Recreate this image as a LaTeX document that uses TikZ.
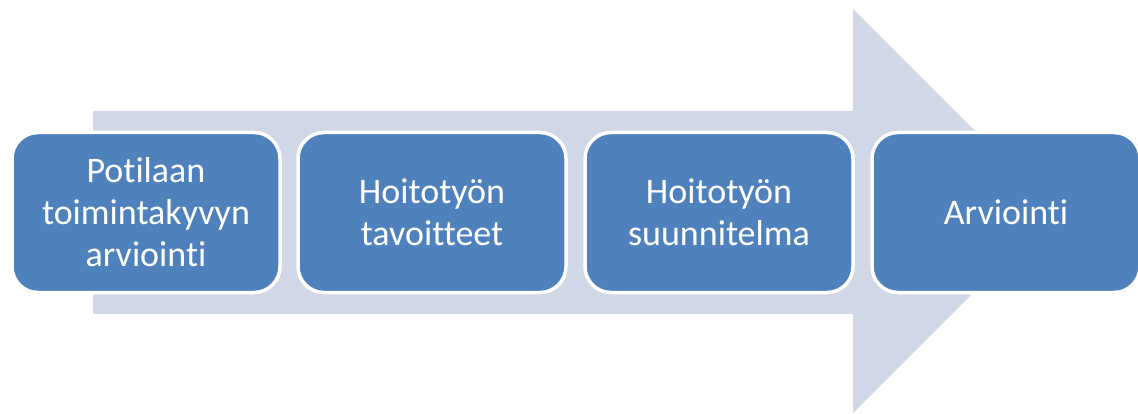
\documentclass[tikz,border=0pt]{standalone}
\usepackage{fontspec}
\setmainfont{Carlito}[Ligatures={NoCommon,NoContextual}]
\definecolor{arrowfill}{HTML}{D0D8E8}
\definecolor{boxfill}{HTML}{4F81BD}
\begin{document}
\begin{tikzpicture}[x=1pt,y=-1pt,
  stepbox/.style={draw=white, line width=3.5pt, fill=boxfill, rounded corners=26pt,
    minimum width=268pt, minimum height=160pt, inner sep=0pt, text=white,
    align=center, font=\fontsize{36}{42}\selectfont, anchor=center}]
\useasboundingbox (0,0) rectangle (1138,414);
\fill[arrowfill] (93,111) -- (853,111) -- (853,9) -- (1055,211) -- (853,413) -- (853,314) -- (93,314) -- cycle;
\node[stepbox] (b1) at (146,212.5) {Potilaan\\toimintakyvyn\\arviointi};
\node[stepbox] (b2) at (432,212.5) {Hoitotyön\\tavoitteet};
\node[stepbox] (b3) at (719,212.5) {Hoitotyön\\suunnitelma};
\node[stepbox] (b4) at (1006,212.5) {Arviointi};
\end{tikzpicture}
\end{document}
